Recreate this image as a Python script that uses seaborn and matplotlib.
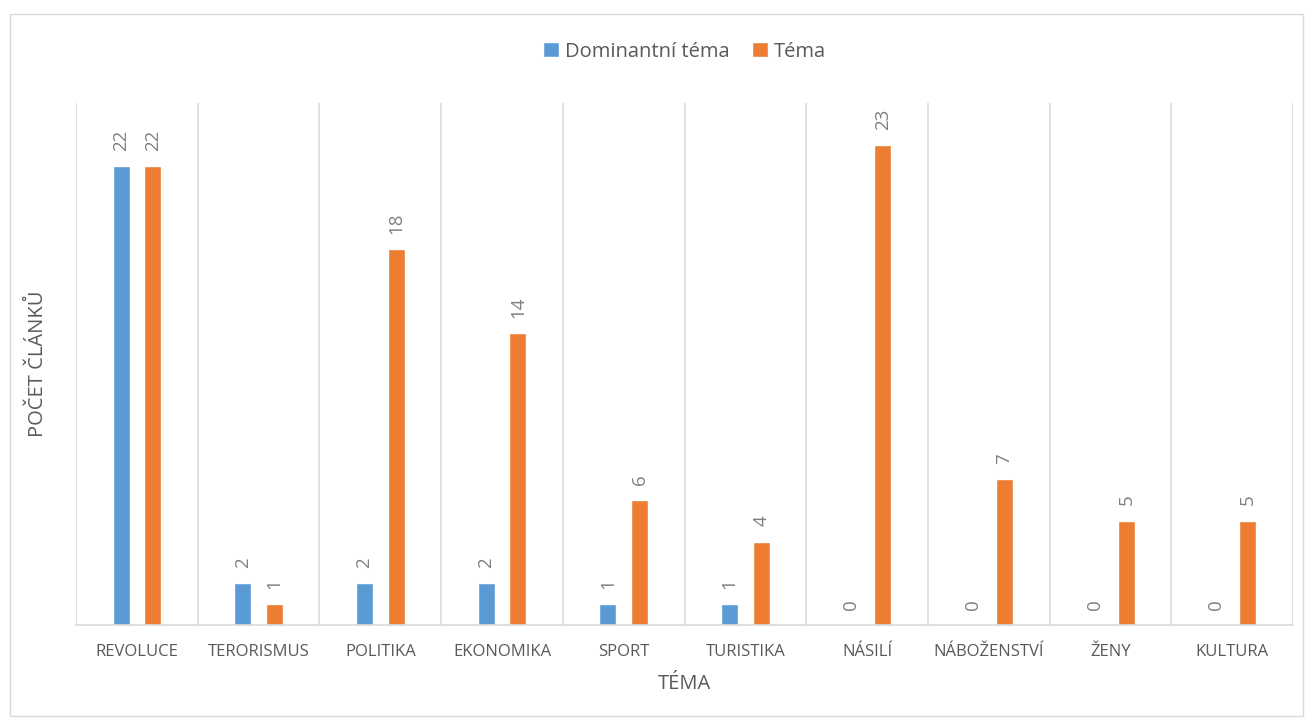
import pandas as pd
import matplotlib.pyplot as plt
import seaborn as sns
from matplotlib.patches import Rectangle

topics = ["REVOLUCE", "TERORISMUS", "POLITIKA", "EKONOMIKA", "SPORT",
          "TURISTIKA", "NÁSILÍ", "NÁBOŽENSTVÍ", "ŽENY", "KULTURA"]
dominant = [22, 2, 2, 2, 1, 1, 0, 0, 0, 0]
tema = [22, 1, 18, 14, 6, 4, 23, 7, 5, 5]
series = ["Dominantní téma", "Téma"]
colors = ["#5B9BD5", "#ED7D31"]

df = pd.DataFrame({
    "topic": topics * 2,
    "count": dominant + tema,
    "series": [series[0]] * len(topics) + [series[1]] * len(topics),
})

sns.set_style("white")
plt.rcParams["font.family"] = ["Open Sans", "DejaVu Sans"]

fig = plt.figure(figsize=(13.12, 7.22), dpi=100)
ax = fig.add_axes([0.058, 0.1343, 0.9275, 0.7227])

sns.barplot(data=df, x="topic", y="count", hue="series", palette=colors,
            width=0.52, gap=0.46, ax=ax, saturation=1)

for c in ax.containers:
    ax.bar_label(c, rotation=90, padding=11, fontsize=13.5, color="#7f7f7f")

ax.set_ylim(0, 25)
ax.set_xlim(-0.5, len(topics) - 0.5)
ax.set_yticks([])
ax.set_xticks(range(len(topics)))
ax.set_xticklabels(topics, fontsize=12, color="#595959")
ax.set_xticks([i - 0.5 for i in range(len(topics) + 1)], minor=True)
ax.tick_params(axis="x", which="both", length=0, pad=14)
ax.grid(axis="x", which="minor", color="#d9d9d9", linewidth=1.2)
ax.grid(axis="x", which="major", visible=False)
for s in ["top", "right", "left"]:
    ax.spines[s].set_visible(False)
ax.spines["bottom"].set_color("#d9d9d9")
ax.spines["bottom"].set_linewidth(1.2)

ax.set_xlabel("TÉMA", fontsize=14.5, color="#595959", labelpad=10)
ax.set_ylabel("POČET ČLÁNKŮ", fontsize=14.5, color="#595959", labelpad=20)

ax.legend(loc="lower center", bbox_to_anchor=(0.5, 1.045), ncol=2, frameon=False,
          fontsize=14.5, handlelength=0.8, handleheight=0.8, columnspacing=1.1,
          handletextpad=0.3, labelcolor="#595959")

fig.patches.append(Rectangle((0.008, 0.008), 0.985, 0.972, transform=fig.transFigure,
                             fill=False, edgecolor="#d9d9d9", linewidth=1))

fig.savefig("out.png", dpi=100)
